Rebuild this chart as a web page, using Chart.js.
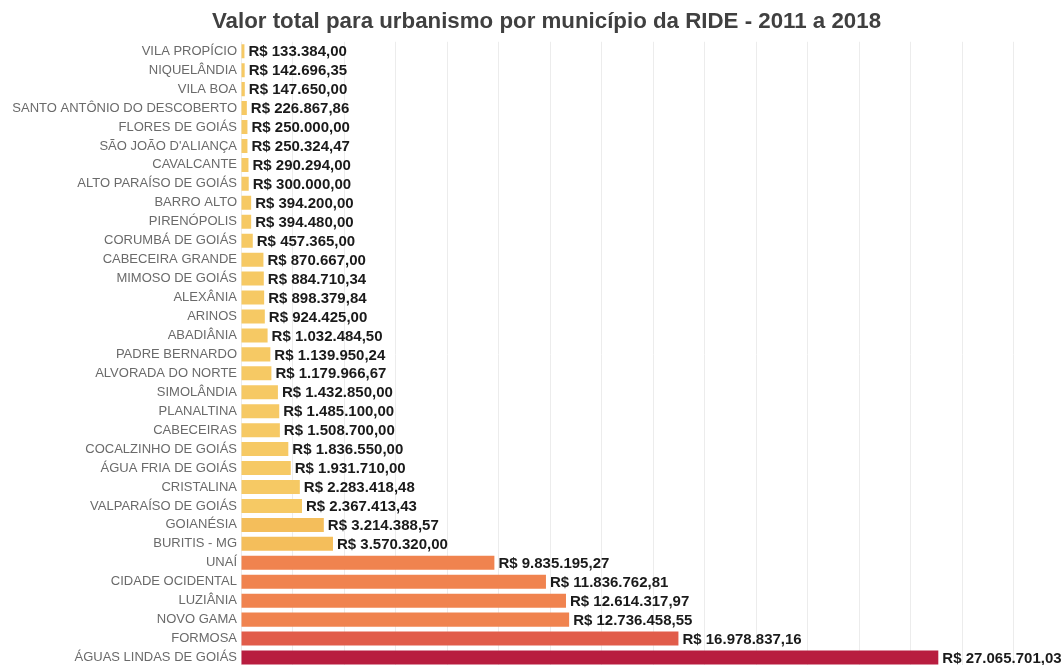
<!DOCTYPE html>
<html>
<head>
<meta charset="utf-8">
<script src="https://cdn.jsdelivr.net/npm/chart.js@4/dist/chart.umd.min.js"></script>
<style>
  html, body { margin: 0; padding: 0; background: #ffffff; overflow: hidden; width: 1064px; height: 665px; }
  #wrap { position: absolute; left: 0; top: 0; width: 1093px; height: 667px; }
</style>
</head>
<body>
<div id="wrap"><canvas id="c" width="1093" height="667"></canvas></div>
<script>
const titleText = 'Valor total para urbanismo por município da RIDE - 2011 a 2018';

const municipios = [
  'VILA PROPÍCIO', 'NIQUELÂNDIA', 'VILA BOA', 'SANTO ANTÔNIO DO DESCOBERTO',
  'FLORES DE GOIÁS', "SÃO JOÃO D'ALIANÇA", 'CAVALCANTE', 'ALTO PARAÍSO DE GOIÁS',
  'BARRO ALTO', 'PIRENÓPOLIS', 'CORUMBÁ DE GOIÁS', 'CABECEIRA GRANDE',
  'MIMOSO DE GOIÁS', 'ALEXÂNIA', 'ARINOS', 'ABADIÂNIA', 'PADRE BERNARDO',
  'ALVORADA DO NORTE', 'SIMOLÂNDIA', 'PLANALTINA', 'CABECEIRAS',
  'COCALZINHO DE GOIÁS', 'ÁGUA FRIA DE GOIÁS', 'CRISTALINA', 'VALPARAÍSO DE GOIÁS',
  'GOIANÉSIA', 'BURITIS - MG', 'UNAÍ', 'CIDADE OCIDENTAL', 'LUZIÂNIA',
  'NOVO GAMA', 'FORMOSA', 'ÁGUAS LINDAS DE GOIÁS'
];

const valores = [
  133384.00, 142696.35, 147650.00, 226867.86,
  250000.00, 250324.47, 290294.00, 300000.00,
  394200.00, 394480.00, 457365.00, 870667.00,
  884710.34, 898379.84, 924425.00, 1032484.50, 1139950.24,
  1179966.67, 1432850.00, 1485100.00, 1508700.00,
  1836550.00, 1931710.00, 2283418.48, 2367413.43,
  3214388.57, 3570320.00, 9835195.27, 11836762.81, 12614317.97,
  12736458.55, 16978837.16, 27065701.03
];

const gridTicks = [0, 2000000, 4000000, 6000000, 8000000, 10000000, 12000000, 14000000,
  16000000, 18000000, 20000000, 22000000, 24000000, 26000000, 28000000, 30000000, 32000000];

function formatBRL(v) {
  const fixed = v.toFixed(2);
  const parts = fixed.split('.');
  const intPart = parts[0].replace(/\B(?=(\d{3})+(?!\d))/g, '.');
  return 'R$ ' + intPart + ',' + parts[1];
}

function barColor(v) {
  if (v < 5000000) return v < 3000000 ? '#F6C964' : '#F4BE5B';
  if (v < 15000000) return '#F0834F';
  if (v < 20000000) return '#E15C4A';
  return '#B81D3F';
}

const valueLabels = {
  id: 'valueLabels',
  afterDatasetsDraw(chart) {
    const ctx = chart.ctx;
    const meta = chart.getDatasetMeta(0);
    ctx.save();
    ctx.font = 'bold 15px "Liberation Sans", Arial, sans-serif';
    ctx.fillStyle = '#1a1a1a';
    ctx.textAlign = 'left';
    ctx.textBaseline = 'middle';
    meta.data.forEach((bar, i) => {
      ctx.fillText(formatBRL(valores[i]), bar.x + 4, bar.y + 1);
    });
    ctx.restore();
  }
};

new Chart(document.getElementById('c'), {
  type: 'bar',
  data: {
    labels: municipios,
    datasets: [{
      data: valores,
      backgroundColor: (ctx) => barColor(ctx.raw),
      borderWidth: 0,
      categoryPercentage: 1.0,
      barPercentage: 0.74
    }]
  },
  options: {
    indexAxis: 'y',
    responsive: false,
    animation: false,
    layout: { padding: 0 },
    plugins: {
      legend: { display: false },
      tooltip: { enabled: false },
      title: {
        display: true,
        text: titleText,
        color: '#404040',
        font: { family: '"Liberation Sans", Arial, sans-serif', size: 22.3, weight: 'bold' },
        padding: { top: 8, bottom: 7 }
      }
    },
    scales: {
      x: {
        min: 0,
        max: 33070000,
        ticks: { display: false },
        afterBuildTicks: (s) => { s.ticks = gridTicks.map(v => ({ value: v })); },
        grid: { color: '#ECECEC', drawTicks: false, lineWidth: 1 },
        border: { display: false },
        afterFit: (s) => { s.height = 0; s.paddingLeft = 0; s.paddingRight = 0; }
      },
      y: {
        ticks: {
          color: '#6a6a6a',
          padding: 4,
          autoSkip: false,
          font: { family: '"Liberation Sans", Arial, sans-serif', size: 13 }
        },
        grid: { display: false, drawTicks: false },
        border: { display: false },
        afterFit: (s) => { s.width = 241; s.paddingTop = 0; s.paddingBottom = 0; }
      }
    }
  },
  plugins: [valueLabels]
});
</script>
</body>
</html>
